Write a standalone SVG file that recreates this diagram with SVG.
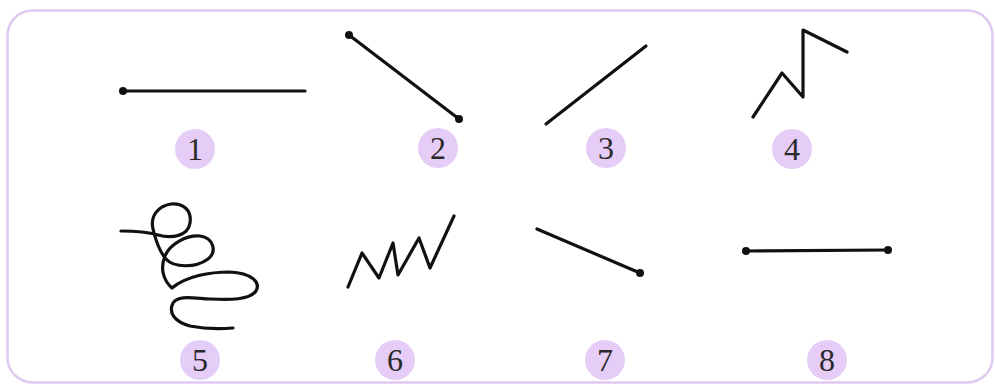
<svg xmlns="http://www.w3.org/2000/svg" width="995" height="385" viewBox="0 0 995 385">
<style>
.ln{fill:none;stroke:#111;stroke-width:3.2;stroke-linecap:round;stroke-linejoin:round}
.dot{fill:#111}
.badge{fill:#e6cdf7}
.num{font-family:"Liberation Serif","Times New Roman",serif;font-size:32px;fill:#2a2a2a;text-anchor:middle}
</style>
<rect x="0" y="0" width="995" height="385" fill="#ffffff"/>
<rect x="7.5" y="10.5" width="985" height="372" rx="25" ry="25" fill="none" stroke="#dfc8f2" stroke-width="2.5"/>
<g id="shapes">
<g id="shape1"><line class="ln" x1="123" y1="91" x2="305" y2="91"/><circle class="dot" cx="123" cy="91" r="4"/></g>
<g id="shape2"><line class="ln" x1="349" y1="35" x2="459" y2="119"/><circle class="dot" cx="349" cy="35" r="4"/><circle class="dot" cx="459" cy="119" r="4"/></g>
<g id="shape3"><line class="ln" x1="546" y1="124" x2="646" y2="46"/></g>
<g id="shape4"><polyline class="ln" points="753,117 782,73 803,97 803,30 847,52"/></g>
<g id="shape5"><path class="ln" d="M121,231 C135,231 148,232 158,235 C172,239 188,236 190,223 C192,210 183,203 171,204 C158,206 150,216 153,229 C156,242 160,252 166,259 C174,268 196,268 208,259 C217,252 214,238 200,236 C186,235 170,244 165,256 C160,268 163,280 172,288 C186,276 210,272 230,272 C251,273 261,282 256,291 C250,300 230,300 210,299 C192,298 178,295 173,303 C168,313 175,322 190,326 C205,329 220,329 233,328"/></g>
<g id="shape6"><polyline class="ln" points="348,287 362,253 379,278 393,243 398,275 419,238 430,268 454,216"/></g>
<g id="shape7"><line class="ln" x1="537" y1="229" x2="640" y2="273"/><circle class="dot" cx="640" cy="273" r="4"/></g>
<g id="shape8"><line class="ln" x1="746" y1="251" x2="888" y2="250"/><circle class="dot" cx="746" cy="251" r="4"/><circle class="dot" cx="888" cy="250" r="4"/></g>
</g>
<g id="labels">
<g id="n1"><circle class="badge" cx="195" cy="149" r="20"/><text class="num" x="195" y="160">1</text></g>
<g id="n2"><circle class="badge" cx="438" cy="148" r="20"/><text class="num" x="438" y="159">2</text></g>
<g id="n3"><circle class="badge" cx="606" cy="148" r="20"/><text class="num" x="606" y="159">3</text></g>
<g id="n4"><circle class="badge" cx="792" cy="149" r="20"/><text class="num" x="792" y="160">4</text></g>
<g id="n5"><circle class="badge" cx="200" cy="360" r="20"/><text class="num" x="200" y="371">5</text></g>
<g id="n6"><circle class="badge" cx="395" cy="360" r="20"/><text class="num" x="395" y="371">6</text></g>
<g id="n7"><circle class="badge" cx="605" cy="360" r="20"/><text class="num" x="605" y="371">7</text></g>
<g id="n8"><circle class="badge" cx="827" cy="360" r="20"/><text class="num" x="827" y="371">8</text></g>
</g>
</svg>
